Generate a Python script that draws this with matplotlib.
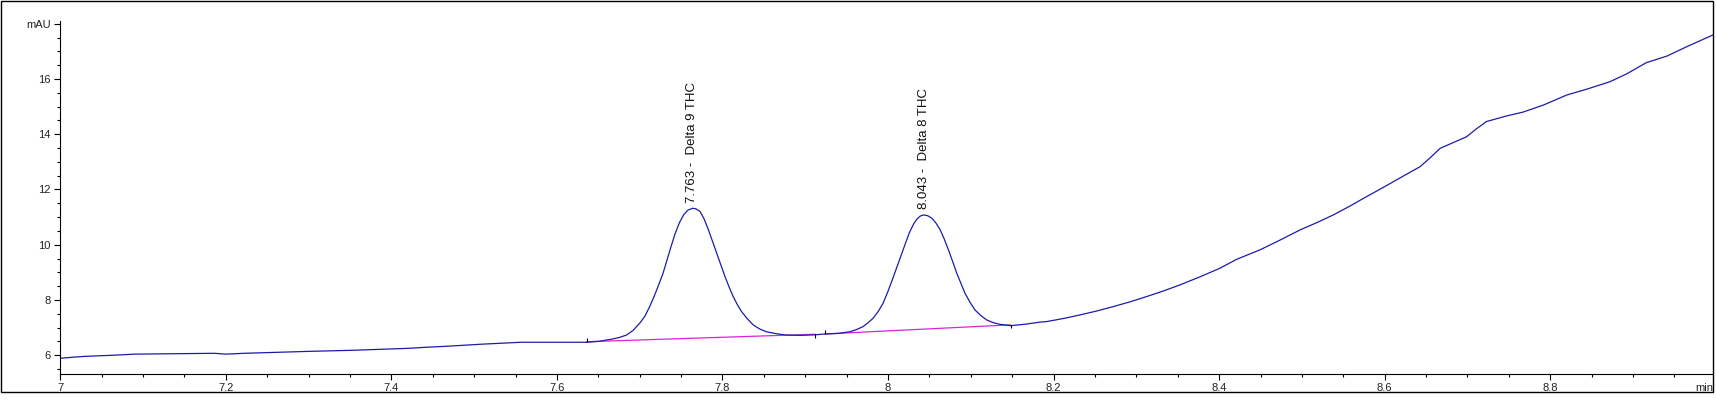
import numpy as np
import matplotlib.pyplot as plt
from matplotlib.patches import Rectangle
from matplotlib.ticker import MultipleLocator

# Chromatogram trace (min, mAU)
time_min = [
    7.000, 7.016, 7.030, 7.064, 7.090, 7.186, 7.200, 7.222, 7.266, 7.300,
    7.354, 7.390, 7.420, 7.443, 7.470, 7.486, 7.509, 7.530, 7.557, 7.636,
    7.650, 7.666, 7.675, 7.684, 7.692, 7.700, 7.706, 7.712, 7.717, 7.722,
    7.728, 7.733, 7.738, 7.743, 7.748, 7.753, 7.758, 7.764, 7.768, 7.773,
    7.778, 7.783, 7.788, 7.793, 7.798, 7.803, 7.808, 7.813, 7.818, 7.823,
    7.830, 7.837, 7.845, 7.853, 7.865, 7.877, 7.895, 7.912, 7.924, 7.940,
    7.954, 7.962, 7.970, 7.976, 7.982, 7.988, 7.994, 8.000, 8.006, 8.011,
    8.016, 8.021, 8.026, 8.031, 8.035, 8.039, 8.043, 8.048, 8.053, 8.058,
    8.063, 8.068, 8.073, 8.078, 8.083, 8.088, 8.093, 8.099, 8.105, 8.112,
    8.119, 8.127, 8.135, 8.148, 8.165, 8.184, 8.192, 8.212, 8.232, 8.252,
    8.272, 8.292, 8.312, 8.333, 8.353, 8.377, 8.401, 8.421, 8.449, 8.473,
    8.498, 8.518, 8.538, 8.558, 8.578, 8.598, 8.618, 8.643, 8.655, 8.667,
    8.683, 8.699, 8.711, 8.723, 8.747, 8.767, 8.792, 8.820, 8.844, 8.872,
    8.892, 8.916, 8.941, 8.965, 8.997,
]
signal_mau = [
    5.89, 5.93, 5.96, 6.00, 6.04, 6.07, 6.04, 6.07, 6.11, 6.14,
    6.18, 6.22, 6.25, 6.29, 6.33, 6.36, 6.40, 6.43, 6.47, 6.47,
    6.50, 6.58, 6.64, 6.73, 6.90, 7.16, 7.40, 7.76, 8.10, 8.48,
    8.95, 9.45, 9.95, 10.42, 10.80, 11.08, 11.25, 11.32, 11.30, 11.20,
    10.92, 10.54, 10.12, 9.69, 9.27, 8.85, 8.47, 8.12, 7.83, 7.58,
    7.32, 7.10, 6.95, 6.85, 6.78, 6.73, 6.72, 6.74, 6.77, 6.79,
    6.85, 6.93, 7.04, 7.18, 7.34, 7.58, 7.88, 8.32, 8.80, 9.22,
    9.64, 10.05, 10.45, 10.76, 10.93, 11.04, 11.08, 11.05, 10.96, 10.78,
    10.54, 10.20, 9.81, 9.40, 8.97, 8.60, 8.24, 7.92, 7.64, 7.44,
    7.28, 7.18, 7.12, 7.07, 7.12, 7.20, 7.22, 7.33, 7.46, 7.60,
    7.76, 7.93, 8.12, 8.33, 8.55, 8.84, 9.15, 9.47, 9.81, 10.16,
    10.54, 10.80, 11.08, 11.40, 11.74, 12.07, 12.41, 12.83, 13.15, 13.49,
    13.70, 13.91, 14.20, 14.46, 14.66, 14.80, 15.06, 15.42, 15.63, 15.90,
    16.18, 16.59, 16.83, 17.17, 17.60,
]

# Integration baselines: start/end of each peak
base_start_t = [7.636, 7.924]
base_start_v = [6.49, 6.77]
base_end_t = [7.912, 8.148]
base_end_v = [6.76, 7.10]

# Peak labels
peak_rt = [7.763, 8.043]
peak_top = [11.32, 11.08]
peak_name = ["Delta 9 THC", "Delta 8 THC"]

x_ticks = [7.0, 7.2, 7.4, 7.6, 7.8, 8.0, 8.2, 8.4, 8.6, 8.8]
x_labels = ["7", "7.2", "7.4", "7.6", "7.8", "8", "8.2", "8.4", "8.6", "8.8"]
y_ticks = [6, 8, 10, 12, 14, 16, 18]
y_labels = ["6", "8", "10", "12", "14", "16", "mAU"]

plt.rcParams['font.family'] = ['Liberation Sans', 'DejaVu Sans']

W, H = 1716, 404
fig = plt.figure(figsize=(W / 100, H / 100), dpi=100)
ax = fig.add_axes([60.3 / W, (H - 374.3) / H, (1713.3 - 60.3) / W, (374.3 - 20.7) / H])

trace_col = "#1c1ca8"
base_col = "#dd22dd"

ax.plot(time_min, signal_mau, color=trace_col, lw=0.9)

for t0, v0, t1, v1 in zip(base_start_t, base_start_v, base_end_t, base_end_v):
    ax.plot([t0, t1], [v0, v1], color=base_col, lw=0.9, zorder=1)
    # small start (up) / end (down) tick marks
    ax.vlines(t0, v0, v0 + 0.13, color="black", lw=0.8)
    ax.vlines(t1, v1 - 0.13, v1, color="black", lw=0.8)

for rt, top, name in zip(peak_rt, peak_top, peak_name):
    ax.annotate(f"{rt:.3f} -  {name}", xy=(rt, top), xytext=(0, 4),
                textcoords="offset points", rotation=90, ha="center", va="bottom",
                fontsize=9.5, color="#111111")

ax.set_xlim(7.0, 8.997)
ax.set_ylim(5.31, 18.11)

ax.set_xticks(x_ticks)
ax.set_xticklabels(x_labels)
ax.xaxis.set_minor_locator(MultipleLocator(0.05))
ax.set_yticks(y_ticks)
ax.set_yticklabels(y_labels)
ax.yaxis.set_minor_locator(MultipleLocator(0.5))

ax.tick_params(axis="both", which="major", length=4.5, width=0.8, pad=2.5,
               labelsize=8, labelcolor="#222222")
ax.tick_params(axis="x", which="major", pad=2)
ax.tick_params(axis="both", which="minor", length=2.2, width=0.8)

for side in ["top", "right"]:
    ax.spines[side].set_visible(False)
for side in ["left", "bottom"]:
    ax.spines[side].set_linewidth(0.8)

ax.text(1.0, -0.025, "min", transform=ax.transAxes, ha="right", va="top",
        fontsize=8, color="#222222")

# outer frame around the whole chart
fig.patches.append(Rectangle((0.5 / W, (H - 392.3) / H), 1712.8 / W, 391.8 / H,
                             transform=fig.transFigure, fill=False,
                             edgecolor="black", lw=1.0))

fig.savefig("out.png", dpi=100)
